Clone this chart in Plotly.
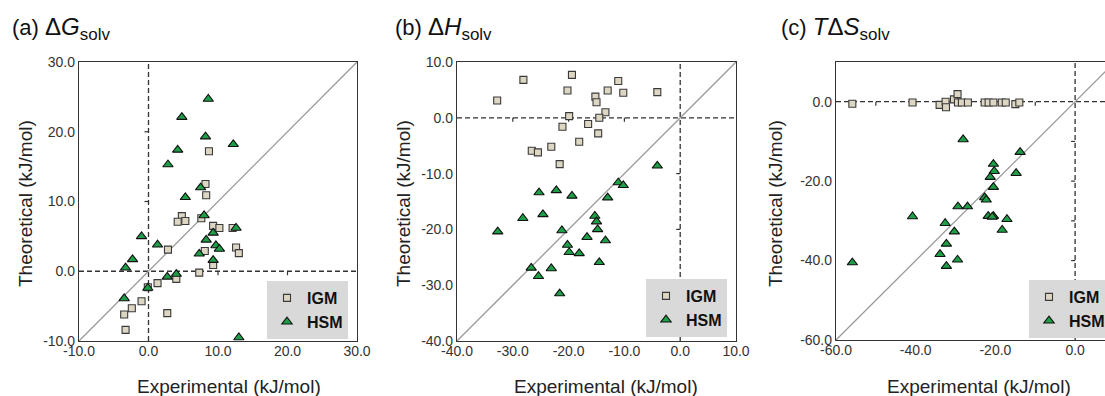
import plotly.graph_objects as go

W, H = 1105, 396

# ---------------- data ----------------
a_igm_x = [8.7, 8.2, 8.3, 4.8, 4.2, 5.3, 7.6, 9.3, 10.2, 12.1, 12.6, 13.0, 2.8, 8.1, 9.3, 7.3, 4.0, 1.3, -0.1, -1.0, -2.4, -3.5, -3.3, 2.7]
a_igm_y = [17.2, 12.5, 10.9, 7.9, 7.1, 7.2, 7.6, 6.5, 6.2, 6.2, 3.4, 2.6, 3.1, 2.9, 0.9, -0.2, -1.1, -1.7, -2.3, -4.3, -5.3, -6.2, -8.4, -6.0]
a_hsm_x = [8.6, 4.8, 8.2, 12.2, 4.2, 2.8, 7.5, 5.3, 8.0, 12.6, -1.0, 1.3, 9.3, 8.3, 9.7, 10.2, 7.3, 9.3, -2.3, -3.3, 2.7, 4.0, -0.1, -3.5, 13.0]
a_hsm_y = [24.7, 22.1, 19.3, 18.2, 17.4, 15.3, 12.0, 10.6, 8.0, 6.2, 5.0, 3.8, 5.5, 4.5, 3.7, 3.2, 2.5, 1.6, 1.7, 0.5, -0.8, -0.4, -2.4, -3.9, -9.5]

b_igm_x = [-32.8, -28.1, -19.4, -20.2, -15.2, -15.0, -13.0, -11.1, -10.2, -4.1, -19.9, -13.4, -14.5, -21.1, -16.5, -14.7, -18.1, -23.1, -26.6, -25.5, -21.6]
b_igm_y = [3.1, 6.8, 7.7, 4.9, 3.8, 2.8, 4.9, 6.6, 4.5, 4.6, 0.3, 1.0, 0.0, -1.6, -1.1, -2.8, -4.3, -5.2, -5.9, -6.2, -8.3]
b_hsm_x = [-4.1, -11.1, -10.2, -25.3, -22.2, -19.4, -13.0, -28.2, -24.6, -32.7, -21.2, -15.3, -15.0, -14.8, -16.7, -13.4, -20.2, -19.9, -18.1, -14.5, -26.7, -23.1, -25.4, -21.6]
b_hsm_y = [-8.6, -11.6, -12.1, -13.4, -13.0, -14.0, -14.3, -18.0, -17.3, -20.4, -20.2, -17.6, -18.6, -20.0, -21.4, -22.0, -22.8, -24.1, -24.3, -25.9, -26.9, -27.0, -28.4, -31.5]

c_igm_x = [-55.9, -40.8, -34.0, -32.5, -32.4, -30.4, -29.5, -29.4, -28.4, -26.9, -22.7, -21.7, -20.5, -18.4, -17.4, -15.0, -14.0]
c_igm_y = [-0.5, -0.2, -0.8, 0.0, -1.4, 0.6, 1.9, -0.2, -0.2, -0.2, -0.2, -0.2, -0.2, -0.2, -0.2, -0.6, -0.2]
c_hsm_x = [-28.1, -13.8, -20.5, -20.3, -14.8, -21.3, -20.5, -22.7, -22.3, -29.4, -27.0, -40.8, -21.8, -20.5, -20.8, -17.1, -18.3, -32.6, -30.3, -32.3, -33.9, -29.5, -32.3, -55.9]
c_hsm_y = [-9.5, -12.7, -15.7, -17.5, -18.0, -19.0, -21.5, -24.1, -24.7, -26.4, -26.4, -28.9, -28.8, -28.8, -29.0, -29.6, -32.3, -30.6, -32.7, -35.8, -38.4, -39.8, -41.4, -40.5]

SUB = "<sub><span style='font-size:17px'>solv</span></sub>"
titles = ["(a) <span style='font-size:24px'>Δ<i>G</i></span>" + SUB,
          "(b) <span style='font-size:24px'>Δ<i>H</i></span>" + SUB,
          "(c) <span style='font-size:24px'><i>T</i>Δ<i>S</i></span>" + SUB]
x_title = "Experimental (kJ/mol)"
y_title = "Theoretical (kJ/mol)"
series_names = ["IGM", "HSM"]

a_xrange, a_yrange = [-10, 30], [-10, 30]
b_xrange, b_yrange = [-40, 10], [-40, 10]
c_xrange, c_yrange = [-60, 7.5], [-60, 10]
a_ticks = [-10, 0, 10, 20, 30]
b_ticks = [-40, -30, -20, -10, 0, 10]
c_ticks = [-60, -40, -20, 0]


def labels(vals):
    return [f"{v:.1f}" for v in vals]  # plain hyphen-minus like the reference


# ---------------- layout geometry (pixels) ----------------
panels = [
    dict(px=(79, 357), py=(62, 341), xr=a_xrange, yr=a_yrange, xt=a_ticks, yt=a_ticks,
         igm=(a_igm_x, a_igm_y), hsm=(a_hsm_x, a_hsm_y), title_x=10, ytitle_x=25, xtitle_c=229,
         minor=[-10, 0, 10, 20, 30], leg=(348, 281, "right"), right_line=True),
    dict(px=(457, 736), py=(62, 341), xr=b_xrange, yr=b_yrange, xt=b_ticks, yt=b_ticks,
         igm=(b_igm_x, b_igm_y), hsm=(b_hsm_x, b_hsm_y), title_x=393, ytitle_x=403, xtitle_c=606,
         minor=[-40, -30, -20, -10, 0, 10], leg=(727, 279, "right"), right_line=True),
    dict(px=(836, 1105), py=(62, 340), xr=c_xrange, yr=c_yrange, xt=c_ticks, yt=c_ticks,
         igm=(c_igm_x, c_igm_y), hsm=(c_hsm_x, c_hsm_y), title_x=779, ytitle_x=775, xtitle_c=979,
         minor=[-60, -50, -40, -30, -20, -10, 0, 10], leg=(1029, 280, "left"), right_line=False),
]

FONT = "Liberation Sans, Arial, sans-serif"
IGM_FILL = "#ddd6c3"
IGM_LINE = "#3a3a3a"
HSM_FILL = "#1f9e48"
HSM_LINE = "#111111"
FRAME = "#333333"

fig = go.Figure()
shapes = []
annotations = []
layout = {}

for i, p in enumerate(panels):
    n = "" if i == 0 else str(i + 1)
    xa, ya = "x" + n, "y" + n
    legname = "legend" if i == 0 else "legend" + str(i + 1)

    # y = x reference line spanning the axis range
    lo = min(p["xr"][0], p["yr"][0])
    hi = max(p["xr"][1], p["yr"][1])
    fig.add_trace(go.Scatter(x=[lo, hi], y=[lo, hi], mode="lines",
                             line=dict(color="#9a9a9a", width=1.3),
                             xaxis=xa, yaxis=ya, showlegend=False, hoverinfo="skip"))
    fig.add_trace(go.Scatter(x=p["igm"][0], y=p["igm"][1], mode="markers", name=series_names[0],
                             marker=dict(symbol="square", size=7, color=IGM_FILL,
                                         line=dict(color=IGM_LINE, width=1.1)),
                             xaxis=xa, yaxis=ya, legend=legname, cliponaxis=False))
    fig.add_trace(go.Scatter(x=p["hsm"][0], y=p["hsm"][1], mode="markers", name=series_names[1],
                             marker=dict(symbol="triangle-up", size=9, color=HSM_FILL,
                                         line=dict(color=HSM_LINE, width=1.1)),
                             xaxis=xa, yaxis=ya, legend=legname, cliponaxis=False))

    x0, x1 = p["px"][0] / W, p["px"][1] / W
    y0, y1 = 1 - p["py"][1] / H, 1 - p["py"][0] / H
    layout["xaxis" + n] = dict(domain=[x0, x1], range=p["xr"], tickvals=p["xt"], ticktext=labels(p["xt"]),
                               showgrid=False, zeroline=False, showline=True, linecolor=FRAME,
                               linewidth=1.3, mirror=True, ticks="", anchor=ya, ticklabelstandoff=-3,
                               tickfont=dict(family=FONT, size=14, color="#333333"))
    layout["yaxis" + n] = dict(domain=[y0, y1], range=p["yr"], tickvals=p["yt"], ticktext=labels(p["yt"]),
                               showgrid=False, zeroline=False, showline=True, linecolor=FRAME,
                               linewidth=1.3, mirror=p["right_line"], ticks="", anchor=xa,
                               tickfont=dict(family=FONT, size=14, color="#333333"))

    # dashed zero lines
    shapes.append(dict(type="line", xref=xa, yref=ya + " domain", x0=0, x1=0, y0=0, y1=1,
                       line=dict(color="#333333", width=1.3, dash="5px,3px"), layer="below"))
    shapes.append(dict(type="line", xref=xa + " domain", yref=ya, x0=0, x1=1, y0=0, y1=0,
                       line=dict(color="#333333", width=1.3, dash="5px,3px"), layer="below"))
    # small tick marks on the zero-crossing axes
    for v in p["minor"]:
        if p["yr"][0] < v < p["yr"][1] and v != 0:
            shapes.append(dict(type="line", xref=xa, yref=ya, xsizemode="pixel", xanchor=0,
                               x0=-4, x1=0, y0=v, y1=v, line=dict(color="#333333", width=1.2),
                               layer="below"))
        if p["xr"][0] < v < p["xr"][1] and v != 0:
            shapes.append(dict(type="line", xref=xa, yref=ya, ysizemode="pixel", yanchor=0,
                               x0=v, x1=v, y0=0, y1=-4, line=dict(color="#333333", width=1.2),
                               layer="below"))

    # panel title
    annotations.append(dict(text=titles[i], xref="paper", yref="paper", x=p["title_x"] / W,
                            y=1 - 28 / H, xanchor="left", yanchor="middle", showarrow=False,
                            font=dict(family=FONT, size=22, color="#111111")))
    # axis titles
    annotations.append(dict(text=x_title, xref="paper", yref="paper", x=p["xtitle_c"] / W,
                            y=1 - 386 / H, xanchor="center", yanchor="middle", showarrow=False,
                            font=dict(family=FONT, size=19, color="#222222")))
    annotations.append(dict(text=y_title, xref="paper", yref="paper", x=p["ytitle_x"] / W,
                            y=1 - 204 / H, xanchor="center", yanchor="middle", showarrow=False,
                            textangle=-90, font=dict(family=FONT, size=19, color="#222222")))

    lx, ly, lanchor = p["leg"]
    layout[legname] = dict(x=lx / W, y=1 - ly / H, xanchor=lanchor, yanchor="top",
                           bgcolor="#d9d9d9", borderwidth=0,
                           font=dict(family=FONT, size=16, color="#111111", weight="bold"),
                           itemwidth=30, tracegroupgap=0)

fig.update_layout(width=W, height=H, margin=dict(l=0, r=0, t=0, b=0, autoexpand=False),
                  paper_bgcolor="white", plot_bgcolor="white", shapes=shapes,
                  annotations=annotations, **layout)

fig.write_html("out.html", config={"displayModeBar": False},
               post_script="document.body.style.margin='0px';")
